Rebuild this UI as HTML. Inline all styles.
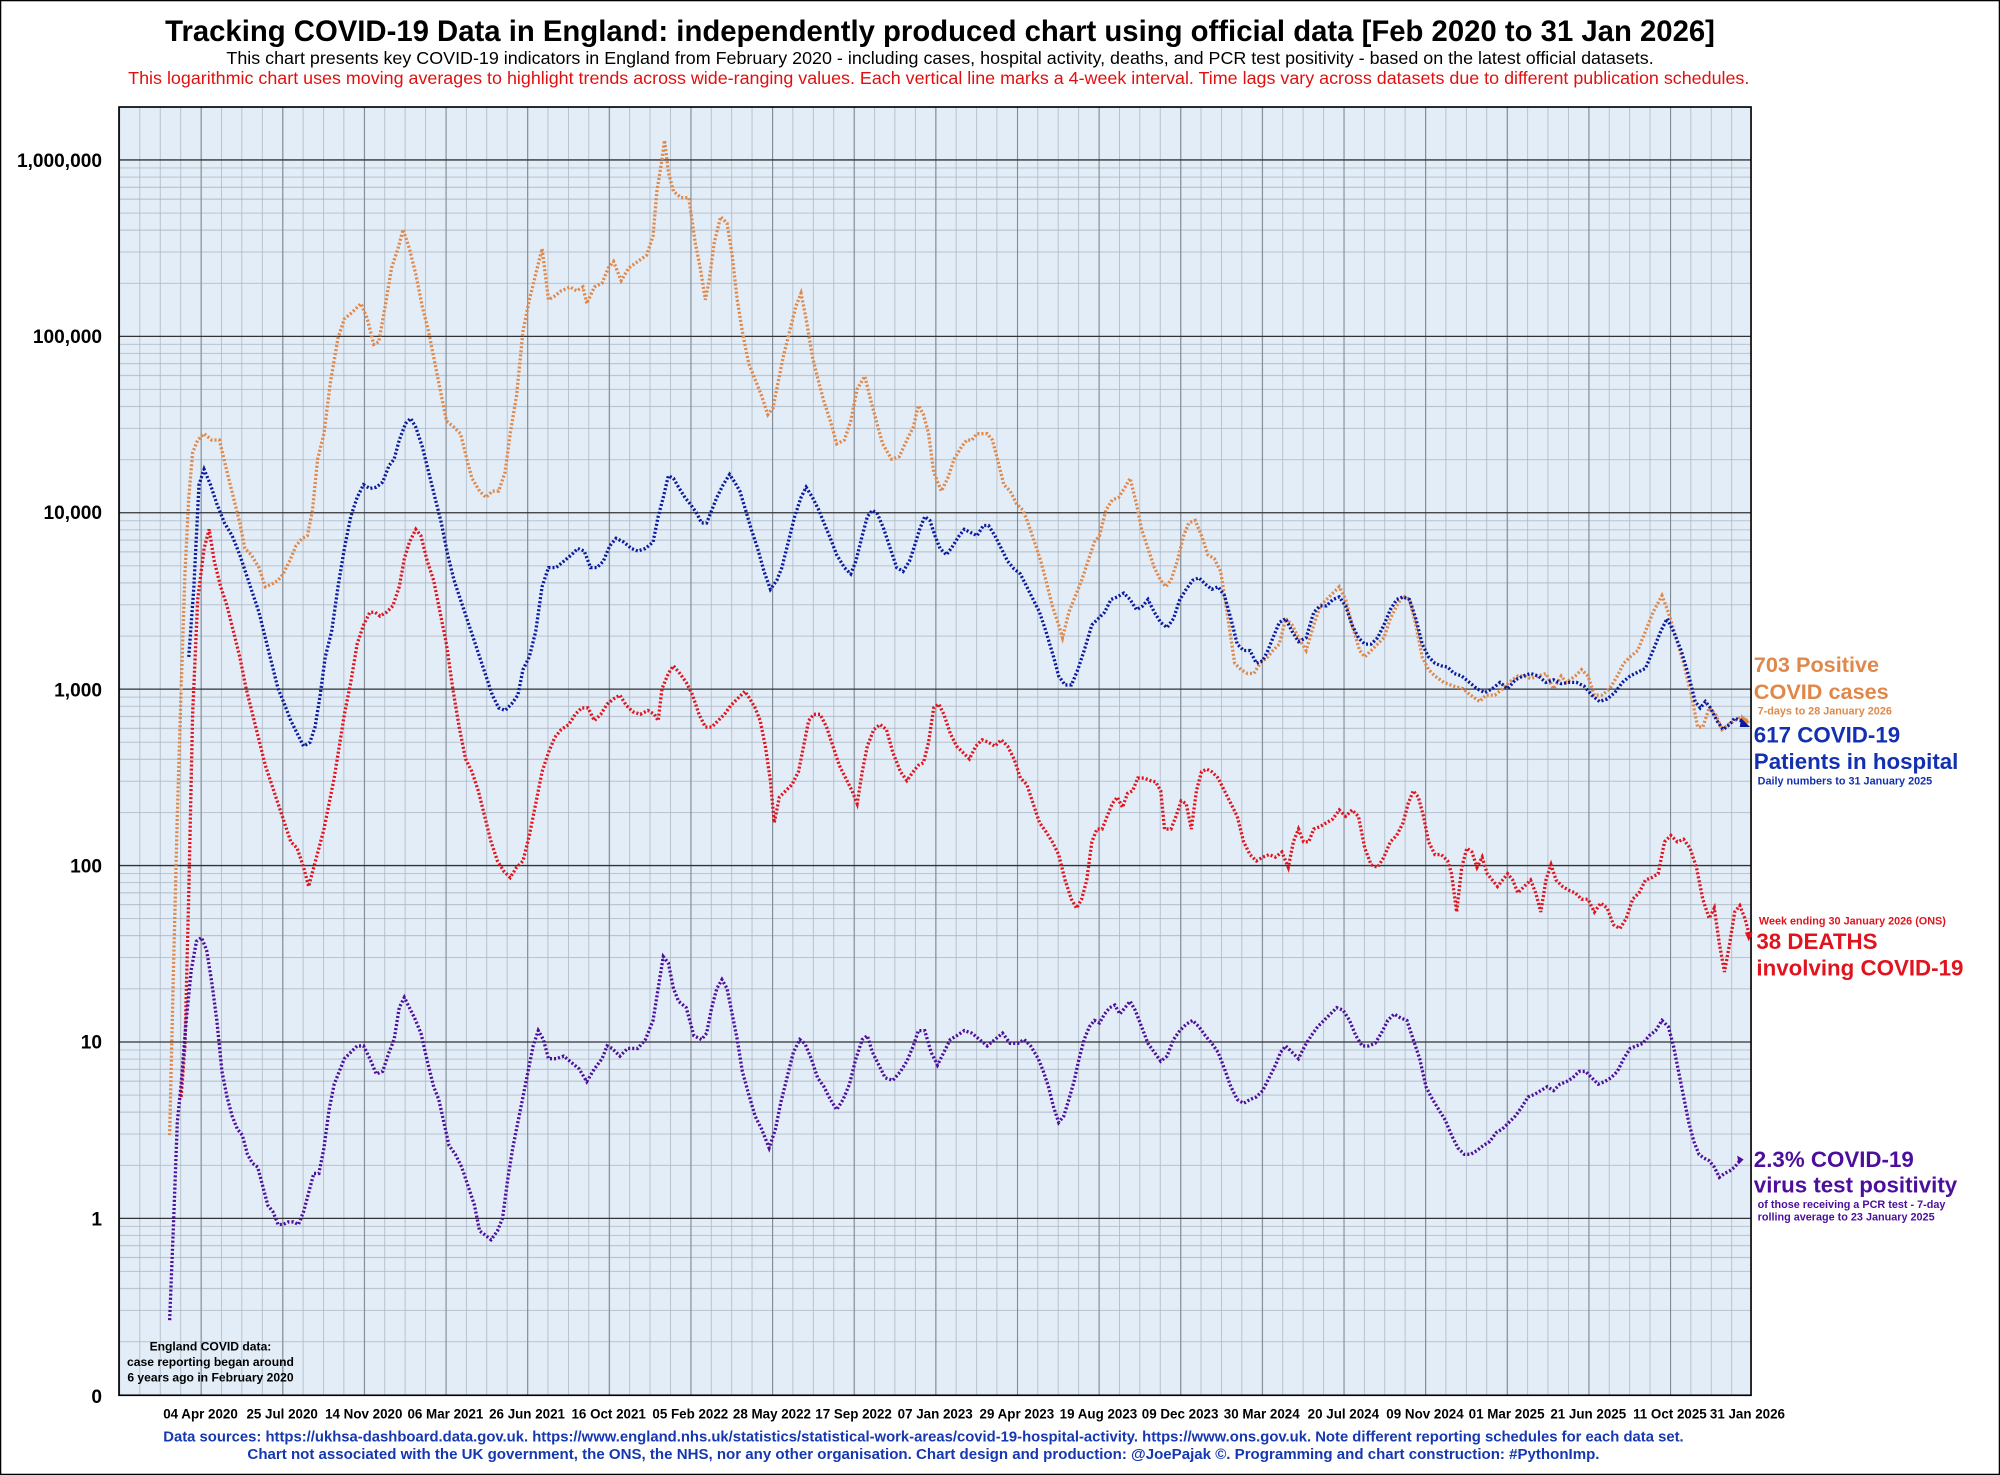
<!DOCTYPE html>
<html><head><meta charset="utf-8"><style>
html,body{margin:0;padding:0;background:#fff;}
svg{display:block;}
text{font-family:"Liberation Sans",Arial,sans-serif;}
</style></head><body>
<svg width="2000" height="1475" viewBox="0 0 1568 1156.4" xmlns="http://www.w3.org/2000/svg">
<defs>
<pattern id="vmin" x="93.3" y="0" width="16" height="20" patternUnits="userSpaceOnUse"><line x1="0.3" y1="0" x2="0.3" y2="20" stroke="#a9b5c1" stroke-width="0.6"/></pattern>
<pattern id="vmaj" x="93.3" y="0" width="64" height="20" patternUnits="userSpaceOnUse"><line x1="0.4" y1="0" x2="0.4" y2="20" stroke="#7f8993" stroke-width="0.9"/></pattern>
<pattern id="hlog" x="0" y="125.4" width="20" height="138.3" patternUnits="userSpaceOnUse">
<g stroke="#a9b5c1" stroke-width="0.6">
<line x1="0" x2="20" y1="6.3" y2="6.3"/><line x1="0" x2="20" y1="13.4" y2="13.4"/><line x1="0" x2="20" y1="21.4" y2="21.4"/><line x1="0" x2="20" y1="30.7" y2="30.7"/><line x1="0" x2="20" y1="41.6" y2="41.6"/><line x1="0" x2="20" y1="55" y2="55"/><line x1="0" x2="20" y1="72.2" y2="72.2"/><line x1="0" x2="20" y1="96.7" y2="96.7"/></g></pattern>
</defs>
<rect x="0.5" y="0.5" width="1567" height="1155.4" fill="#fff" stroke="#000" stroke-width="1"/>
<text x="737" y="32" font-size="23" font-weight="bold" text-anchor="middle" textLength="1215" lengthAdjust="spacingAndGlyphs">Tracking COVID-19 Data in England: independently produced chart using official data [Feb 2020 to 31 Jan 2026]</text>
<text x="737" y="50" font-size="14" text-anchor="middle" textLength="1119" lengthAdjust="spacingAndGlyphs">This chart presents key COVID-19 indicators in England from February 2020 - including cases, hospital activity, deaths, and PCR test positivity - based on the latest official datasets.</text>
<text x="736" y="66" font-size="14" text-anchor="middle" fill="#e01010" textLength="1271" lengthAdjust="spacingAndGlyphs">This logarithmic chart uses moving averages to highlight trends across wide-ranging values. Each vertical line marks a 4-week interval. Time lags vary across datasets due to different publication schedules.</text>

<rect x="93.3" y="83.9" width="1279.5" height="1010" fill="#e3edf7"/>
<rect x="93.3" y="83.9" width="1279.5" height="1010" fill="url(#hlog)"/>
<rect x="93.3" y="83.9" width="1279.5" height="1010" fill="url(#vmin)"/>
<rect x="93.3" y="83.9" width="1279.5" height="1010" fill="url(#vmaj)"/>
<g stroke="#333" stroke-width="1">
<line x1="93.3" x2="1372.8" y1="125.4" y2="125.4"/><line x1="93.3" x2="1372.8" y1="263.7" y2="263.7"/><line x1="93.3" x2="1372.8" y1="402" y2="402"/><line x1="93.3" x2="1372.8" y1="540.3" y2="540.3"/><line x1="93.3" x2="1372.8" y1="678.6" y2="678.6"/><line x1="93.3" x2="1372.8" y1="816.9" y2="816.9"/><line x1="93.3" x2="1372.8" y1="955.2" y2="955.2"/>
</g>
<rect x="93.3" y="83.9" width="1279.5" height="1010" fill="none" stroke="#000" stroke-width="1.3"/>

<g font-size="15" font-weight="bold" text-anchor="end">
<text x="80" y="131">1,000,000</text><text x="80" y="269">100,000</text><text x="80" y="407">10,000</text><text x="80" y="546">1,000</text><text x="80" y="684">100</text><text x="80" y="822">10</text><text x="80" y="961">1</text><text x="80" y="1100">0</text>
</g>
<g font-size="10.5" font-weight="bold" text-anchor="middle">
<text x="157.2" y="1112">04 Apr 2020</text><text x="221.2" y="1112">25 Jul 2020</text><text x="285.2" y="1112">14 Nov 2020</text><text x="349.2" y="1112">06 Mar 2021</text><text x="413.2" y="1112">26 Jun 2021</text><text x="477.2" y="1112">16 Oct 2021</text><text x="541.2" y="1112">05 Feb 2022</text><text x="605.2" y="1112">28 May 2022</text><text x="669.2" y="1112">17 Sep 2022</text><text x="733.2" y="1112">07 Jan 2023</text><text x="797.2" y="1112">29 Apr 2023</text><text x="861.2" y="1112">19 Aug 2023</text><text x="925.2" y="1112">09 Dec 2023</text><text x="989.2" y="1112">30 Mar 2024</text><text x="1053.2" y="1112">20 Jul 2024</text><text x="1117.2" y="1112">09 Nov 2024</text><text x="1181.2" y="1112">01 Mar 2025</text><text x="1245.2" y="1112">21 Jun 2025</text><text x="1309.2" y="1112">11 Oct 2025</text><text x="1370" y="1112">31 Jan 2026</text>
</g>
<g font-size="11.5" font-weight="bold" text-anchor="middle" fill="#1538b0">
<text x="724" y="1130" textLength="1192" lengthAdjust="spacingAndGlyphs">Data sources: https://ukhsa-dashboard.data.gov.uk.   https://www.england.nhs.uk/statistics/statistical-work-areas/covid-19-hospital-activity.   https://www.ons.gov.uk. Note different reporting schedules for each data set.</text>
<text x="724" y="1144" textLength="1060" lengthAdjust="spacingAndGlyphs">Chart not associated with the UK government, the ONS, the NHS, nor any other organisation.   Chart design and production: @JoePajak ©.   Programming and chart construction: #PythonImp.</text>
</g>
<g font-size="9.5" font-weight="bold" text-anchor="middle">
<text x="165" y="1059">England COVID data:</text><text x="165" y="1071">case reporting began around</text><text x="165" y="1083">6 years ago in February 2020</text>
</g>

<g fill="none" stroke-width="2.6" stroke-dasharray="1.6 1.6">
<polyline stroke="#e0884a" points="133,890 136,760 139,640 142,540 145,450 148,390 151,355 155,345 160,340 166,345 172,345 178,370 183,390 188,410 192,430 197,435 203,445 208,460 213,458 218,455 222,450 227,440 232,428 237,422 241,420 245,400 249,360 254,340 259,300 265,265 270,250 276,245 283,238 288,250 293,270 297,268 302,240 307,210 312,195 316,180 321,195 326,215 331,240 336,260 341,285 346,310 350,330 356,335 361,340 366,360 370,375 376,385 381,390 386,385 391,385 396,370 400,340 405,310 410,260 415,235 420,215 425,195 430,235 435,232 440,228 447,225 452,228 457,225 460,238 466,225 472,222 477,210 481,205 487,220 493,210 500,205 507,200 512,185 515,150 519,125 521,110 524,135 528,150 534,155 540,155 545,190 549,210 553,235 556,220 560,190 565,170 570,175 574,200 578,235 582,260 587,285 591,295 597,310 602,325 606,320 610,300 614,280 619,260 624,240 628,230 632,250 637,280 642,300 646,315 651,330 656,348 662,345 667,330 672,305 678,295 683,315 687,330 692,348 699,360 705,358 711,345 716,335 720,318 724,325 728,340 732,370 738,385 743,375 748,360 754,350 758,345 762,345 766,340 770,340 774,340 778,345 782,360 787,380 792,385 797,395 802,400 806,410 811,425 816,440 820,455 825,475 830,490 833,500 838,480 842,470 848,455 853,440 858,425 862,420 867,400 872,392 877,390 882,382 886,375 891,395 895,415 900,430 905,445 910,455 914,460 918,455 923,440 928,420 932,410 937,408 942,420 947,435 952,438 957,448 962,480 968,520 973,525 978,528 983,528 988,520 994,515 998,510 1003,505 1008,485 1013,490 1018,500 1024,510 1030,490 1035,475 1040,470 1045,465 1050,460 1055,470 1060,490 1066,510 1070,515 1075,510 1080,505 1085,500 1090,485 1095,475 1100,467 1105,470 1110,490 1115,515 1120,525 1125,530 1132,535 1140,538 1147,540 1153,545 1160,550 1165,545 1172,545 1178,540 1183,535 1190,530 1195,530 1200,532 1206,530 1212,528 1218,540 1224,530 1228,535 1235,530 1240,525 1245,530 1250,545 1256,545 1262,540 1268,530 1273,520 1278,515 1284,510 1290,495 1296,480 1303,467 1308,480 1314,500 1320,520 1326,545 1331,570 1335,570 1340,555 1345,560 1350,572 1355,568 1360,565 1365,562 1370,565"/>
<polyline stroke="#0a1a9e" points="148,515 152,460 156,380 160,368 165,380 170,395 176,410 182,420 188,435 193,450 198,465 203,480 208,500 213,520 218,540 223,552 228,565 233,575 238,585 243,582 247,570 251,545 255,515 260,495 265,460 270,430 275,405 280,390 285,380 290,383 295,382 300,378 305,365 309,360 313,345 318,332 322,328 326,335 331,350 336,370 341,390 346,410 351,435 356,455 361,470 366,485 371,500 376,515 381,530 386,545 391,555 396,557 401,552 406,545 410,525 415,515 420,495 425,460 430,445 436,445 442,440 448,435 453,430 458,432 463,445 468,445 473,440 478,428 483,422 489,425 495,430 500,432 506,430 512,425 516,405 520,390 524,373 528,375 532,382 537,390 541,395 546,402 550,410 554,410 558,400 562,390 567,380 572,372 576,378 580,385 584,398 589,415 594,430 599,448 604,462 609,455 613,445 618,425 623,405 628,390 632,382 637,390 642,400 646,410 651,422 656,435 662,445 667,450 671,440 676,420 680,405 684,400 688,403 693,415 698,430 703,445 708,448 713,440 717,428 721,415 725,405 729,408 733,420 737,430 742,435 747,428 752,420 756,415 762,418 766,420 771,412 775,412 780,420 785,430 790,440 795,446 800,450 805,460 810,470 815,480 820,495 826,515 830,530 835,537 840,537 845,525 850,510 856,490 861,485 866,480 871,470 876,468 881,465 886,470 891,478 896,475 900,470 905,480 910,488 915,492 920,485 925,470 930,462 935,455 940,453 945,458 950,462 955,460 960,467 965,485 970,505 975,510 980,510 985,520 990,518 994,510 998,500 1003,488 1008,485 1013,495 1018,503 1024,500 1030,480 1035,475 1040,475 1045,470 1050,468 1055,475 1060,490 1065,500 1070,505 1075,505 1080,500 1085,490 1090,478 1095,470 1100,468 1105,470 1110,485 1115,505 1120,515 1125,520 1130,522 1135,523 1140,528 1146,530 1152,535 1158,540 1164,543 1170,540 1176,535 1182,540 1188,533 1194,530 1200,528 1206,530 1212,535 1218,533 1224,536 1230,535 1236,535 1242,538 1248,545 1254,550 1260,548 1266,543 1272,535 1278,530 1284,527 1290,524 1296,510 1302,495 1307,485 1312,495 1318,510 1324,530 1329,550 1333,555 1337,550 1341,555 1346,565 1351,572 1356,568 1360,563 1365,565 1370,567"/>
<polyline stroke="#e0141e" points="142,860 145,820 148,700 151,560 155,470 160,430 164,415 168,440 173,460 178,475 183,495 188,515 193,540 198,560 203,580 208,600 213,615 218,630 223,645 228,660 233,665 238,680 242,695 246,680 250,665 254,650 258,630 262,610 266,585 270,560 275,535 280,505 285,490 290,480 294,480 298,483 303,480 308,475 313,460 317,438 321,425 326,415 330,420 335,440 340,455 345,480 350,505 355,540 360,570 365,595 370,605 375,620 380,640 385,660 390,675 395,683 400,688 405,680 410,675 415,655 420,630 425,605 430,590 435,578 440,572 446,568 451,560 456,555 461,555 466,565 471,560 476,552 481,548 486,545 491,553 496,558 502,560 508,557 513,560 516,565 519,540 524,528 528,522 533,528 538,535 543,545 548,560 553,570 558,570 563,565 568,560 573,553 578,548 584,542 588,548 592,555 596,565 600,585 604,612 607,645 611,625 616,620 621,615 626,605 630,585 634,565 638,560 643,560 648,570 653,585 658,600 663,610 668,620 672,630 676,605 680,585 685,572 690,568 695,572 700,590 706,605 711,612 716,605 720,600 724,598 728,582 732,555 736,552 740,560 745,575 750,585 755,590 760,595 765,585 770,580 775,582 780,585 785,580 790,585 795,595 800,610 805,615 810,630 815,645 820,652 825,660 830,670 835,690 840,705 844,712 848,705 852,690 856,660 860,650 864,650 868,640 872,630 876,625 880,633 884,622 888,620 892,610 897,610 902,612 906,613 910,620 913,650 918,650 922,640 926,628 930,630 934,650 938,620 942,605 946,603 950,605 955,610 960,620 965,630 970,640 975,660 980,670 985,675 990,672 995,670 1000,672 1005,668 1010,680 1014,660 1018,650 1022,660 1026,660 1030,650 1035,648 1040,645 1045,642 1050,635 1055,640 1060,635 1065,640 1070,665 1075,678 1080,680 1085,672 1090,660 1095,655 1100,645 1104,630 1108,620 1112,625 1116,640 1120,660 1125,670 1130,670 1135,675 1138,685 1142,715 1146,680 1150,665 1154,668 1158,680 1162,672 1166,685 1170,690 1174,695 1178,690 1182,685 1186,690 1190,700 1195,695 1200,690 1204,700 1208,715 1212,690 1216,678 1220,690 1225,695 1230,698 1235,700 1240,705 1245,705 1250,715 1255,708 1260,712 1265,725 1270,728 1275,720 1280,705 1285,700 1290,690 1295,688 1300,685 1305,660 1310,655 1315,660 1320,658 1325,665 1330,680 1335,705 1340,720 1344,712 1348,740 1352,762 1356,740 1360,715 1364,710 1368,720 1372,735"/>
<polyline stroke="#4c0e9c" points="133,1035 136,960 139,880 142,850 146,800 150,760 154,738 158,735 162,745 166,770 170,800 174,840 178,860 182,875 186,885 190,890 194,905 198,912 202,915 206,930 210,945 214,950 218,960 222,960 226,958 230,958 234,960 238,950 242,935 246,920 250,920 254,900 258,870 262,850 266,840 270,830 275,825 280,820 285,820 290,830 295,842 300,840 305,825 309,815 313,790 317,782 321,790 325,798 330,810 335,832 340,852 344,862 348,880 352,898 357,905 362,915 367,930 372,945 376,965 380,968 385,972 390,965 394,955 398,925 402,900 406,880 410,860 414,840 418,820 422,808 426,815 430,830 436,830 442,828 448,833 454,838 460,848 466,838 472,830 476,820 480,822 486,828 492,822 500,822 506,815 512,800 516,775 520,750 524,755 528,775 532,785 538,790 544,812 550,815 554,810 558,790 562,775 566,768 570,775 574,795 578,815 582,840 587,858 592,875 597,885 603,900 608,885 612,865 617,845 622,825 627,815 631,818 636,830 641,845 646,852 651,862 656,870 661,862 666,850 671,830 676,815 680,812 684,825 689,835 694,845 700,847 706,840 711,832 716,820 720,808 725,808 730,825 735,835 740,825 745,815 750,812 756,808 762,810 768,815 774,820 780,815 786,810 792,818 798,818 803,815 808,820 814,830 818,840 822,852 826,868 830,880 834,875 838,862 842,848 846,830 850,815 854,805 858,800 862,802 866,795 870,790 874,788 878,795 882,790 886,785 890,792 895,805 900,818 905,825 910,832 915,828 920,815 925,808 930,803 935,800 940,805 945,812 950,818 955,825 960,838 965,852 970,862 975,865 980,862 985,860 990,855 995,845 1000,835 1004,825 1008,820 1013,825 1018,830 1023,820 1028,812 1033,805 1038,800 1043,795 1048,790 1053,792 1058,800 1063,812 1068,820 1073,820 1078,818 1083,810 1088,800 1093,795 1098,798 1103,800 1108,815 1113,830 1118,852 1122,860 1128,870 1133,878 1138,890 1143,900 1148,905 1153,905 1158,902 1163,898 1168,895 1173,888 1178,885 1183,880 1188,875 1193,868 1198,860 1203,858 1208,855 1213,852 1218,855 1223,850 1228,848 1233,845 1238,840 1243,840 1248,845 1253,850 1258,848 1263,845 1268,840 1273,830 1278,822 1283,820 1288,818 1293,812 1298,808 1303,800 1308,805 1312,820 1316,840 1320,860 1324,880 1328,895 1332,905 1336,908 1340,910 1344,915 1348,923 1352,920 1356,918 1360,915 1364,910"/>
</g>
<polygon points="1365,560 1372,566 1365,570" fill="#e0884a"/>
<polygon points="1365,563 1372,570 1364,570" fill="#0a1a9e"/>
<polygon points="1368,731 1374,731 1371,738" fill="#e0141e"/>
<polygon points="1362,906 1367,909 1363,913" fill="#4c0e9c"/>

<g font-weight="bold">
<text x="1375" y="527" font-size="17" fill="#e0884a">703 Positive</text>
<text x="1375" y="548" font-size="17" fill="#e0884a">COVID cases</text>
<text x="1378" y="560" font-size="8.5" fill="#e0884a">7-days to 28 January 2026</text>
<text x="1375" y="582" font-size="17.5" fill="#1230b0">617 COVID-19</text>
<text x="1375" y="603" font-size="17.5" fill="#1230b0">Patients in hospital</text>
<text x="1378" y="615" font-size="8.5" fill="#1230b0">Daily numbers to 31 January 2025</text>
<text x="1379" y="725" font-size="8.5" fill="#e0141e">Week ending 30 January 2026 (ONS)</text>
<text x="1377" y="744" font-size="17.5" fill="#e0141e">38 DEATHS</text>
<text x="1377" y="765" font-size="17.5" fill="#e0141e">involving COVID-19</text>
<text x="1375" y="915" font-size="17.5" fill="#4c0e9c">2.3% COVID-19</text>
<text x="1375" y="935" font-size="17.5" fill="#4c0e9c">virus test positivity</text>
<text x="1378" y="947" font-size="8.5" fill="#4c0e9c">of those receiving a PCR test - 7-day</text>
<text x="1378" y="957" font-size="8.5" fill="#4c0e9c">rolling average to 23 January 2025</text>
</g>
</svg>
</body></html>
